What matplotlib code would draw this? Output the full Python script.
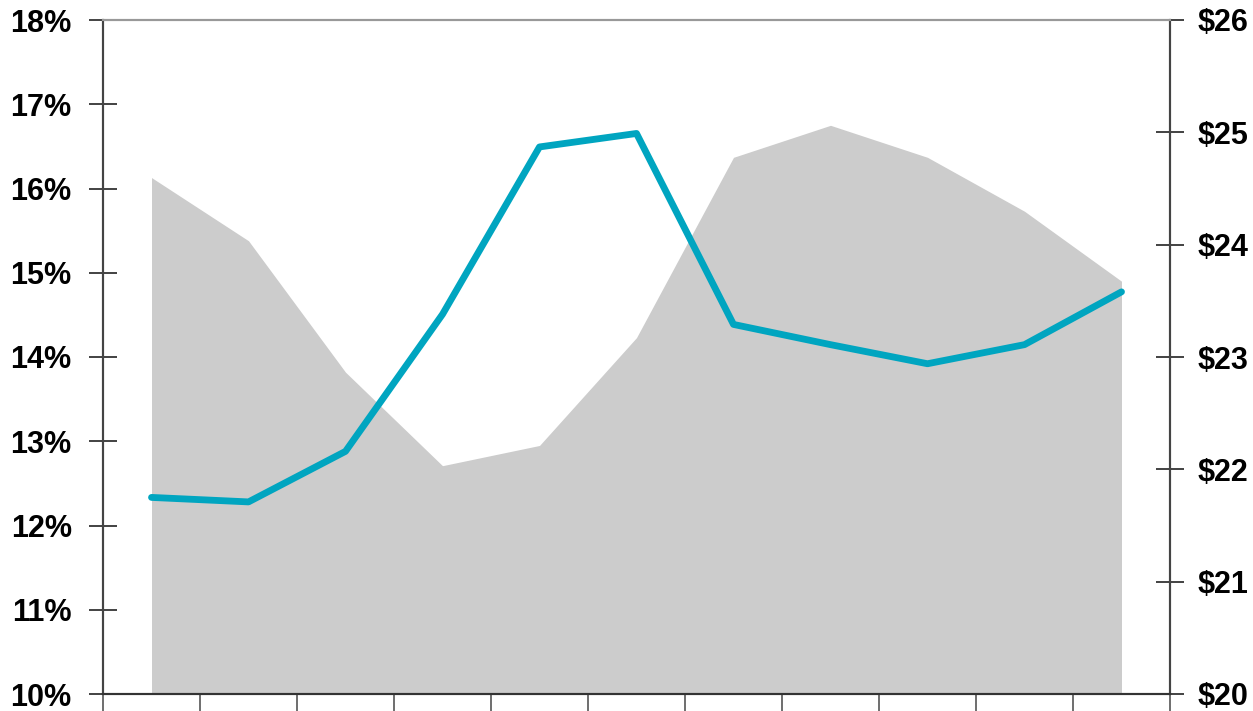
import numpy as np
import matplotlib.pyplot as plt

plt.rcParams['font.family'] = ['Liberation Sans', 'DejaVu Sans']

# 11 periods, no category labels shown
periodos = list(range(11))
area_pct = [16.13, 15.38, 13.82, 12.71, 12.95, 14.23, 16.37, 16.75, 16.37, 15.73, 14.90]
linha_usd = [21.75, 21.71, 22.16, 23.38, 24.87, 24.99, 23.29, 23.11, 22.94, 23.11, 23.58]

pct_ticks = [10, 11, 12, 13, 14, 15, 16, 17, 18]
usd_ticks = [20, 21, 22, 23, 24, 25, 26]

fig = plt.figure(figsize=(12.53, 7.11), dpi=100)
ax = fig.add_axes([103 / 1253, 17 / 711, 1067 / 1253, 674 / 711])

ax.fill_between(periodos, area_pct, 10, color='#cccccc', linewidth=0, zorder=1)
ax.set_xlim(-0.5, 10.5)
ax.set_ylim(10, 18)
ax.set_yticks(pct_ticks)
ax.set_yticklabels([f'{v}%' for v in pct_ticks])
ax.set_xticks(np.arange(-0.5, 11, 1))
ax.set_xticklabels([])
ax.tick_params(axis='y', direction='inout', length=20, width=1.2, color='#222222',
               labelsize=22, pad=12.5)
ax.tick_params(axis='x', direction='out', length=17, width=1.2, color='#555555')
for lab in ax.get_yticklabels():
    lab.set_fontweight('bold')

ax2 = ax.twinx()
ax2.plot(periodos, linha_usd, color='#00a5c0', linewidth=4.9, solid_joinstyle='round',
         solid_capstyle='round', zorder=3)
ax2.set_ylim(20, 26)
ax2.set_yticks(usd_ticks)
ax2.set_yticklabels([f'${v}' for v in usd_ticks])
ax2.tick_params(axis='y', direction='inout', length=20, width=1.2, color='#222222',
                labelsize=22, pad=9.5)
for lab in ax2.get_yticklabels():
    lab.set_fontweight('bold')

for a in (ax, ax2):
    a.spines['left'].set_color('#444444')
    a.spines['right'].set_color('#444444')
    a.spines['bottom'].set_color('#333333')
    a.spines['top'].set_color('#999999')
    for s in a.spines.values():
        s.set_linewidth(1.5)

fig.savefig('out.png', dpi=100)
